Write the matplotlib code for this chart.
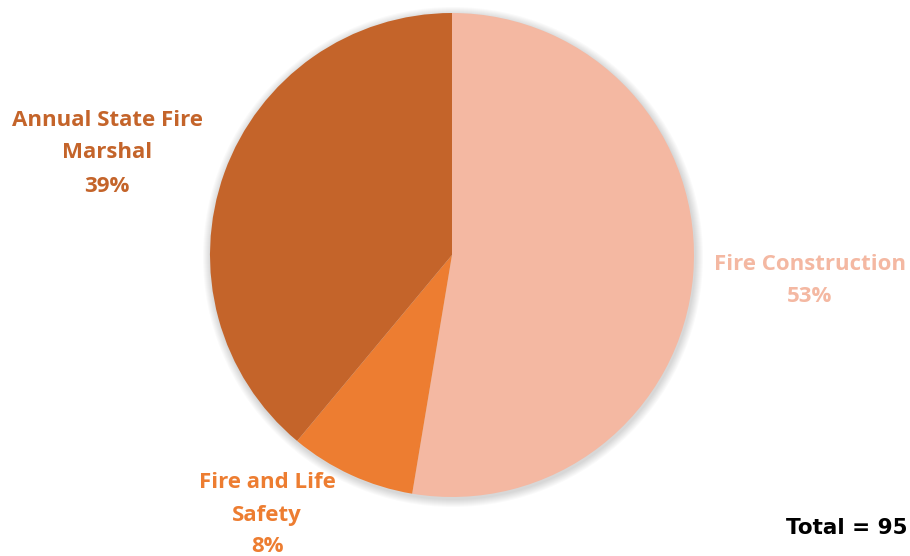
import matplotlib.pyplot as plt
from matplotlib.patches import Circle

labels = ['Fire Construction', 'Fire and Life Safety', 'Annual State Fire Marshal']
values = [50, 8, 37]
colors = ['#F4B8A2', '#ED7D31', '#C4642A']
total = sum(values)

W, H = 910, 556
fig = plt.figure(figsize=(W / 100, H / 100), dpi=100)
ax = fig.add_axes([0, 0, 1, 1])

cx, cy, r = 452, H - 255, 242

# soft shadow around the pie
for i in range(8):
    ax.add_patch(Circle((cx + 1, cy - 2), r + 1 + i, color='black',
                        alpha=0.018, lw=0, zorder=0))

ax.pie(values, colors=colors, startangle=90, counterclock=False,
       center=(cx, cy), radius=r, frame=True,
       wedgeprops=dict(linewidth=0, zorder=1))
ax.set_xlim(0, W)
ax.set_ylim(0, H)
ax.set_aspect('equal')
ax.axis('off')

pct = [round(v / total * 100) for v in values]
lab_font = dict(family=['Open Sans', 'DejaVu Sans'], fontweight='bold', fontsize=16,
                ha='center', va='center', zorder=3)

# Fire Construction
ax.text(810, H - 265, labels[0], color=colors[0], **lab_font)
ax.text(810, H - 297, f'{pct[0]}%', color=colors[0], **lab_font)

# Fire and Life Safety
ax.text(267, H - 483, 'Fire and Life', color=colors[1], **lab_font)
ax.text(267, H - 515, 'Safety', color=colors[1], **lab_font)
ax.text(267, H - 547, f'{pct[1]}%', color=colors[1], **lab_font)

# Annual State Fire Marshal
ax.text(107, H - 120, 'Annual State Fire', color=colors[2], **lab_font)
ax.text(107, H - 152, 'Marshal', color=colors[2], **lab_font)
ax.text(107, H - 186, f'{pct[2]}%', color=colors[2], **lab_font)

ax.text(908, H - 528, f'Total = {total}', color='black', family='DejaVu Sans',
        fontweight='bold', fontsize=15.5, ha='right', va='center')

plt.savefig('out.png', dpi=100)
